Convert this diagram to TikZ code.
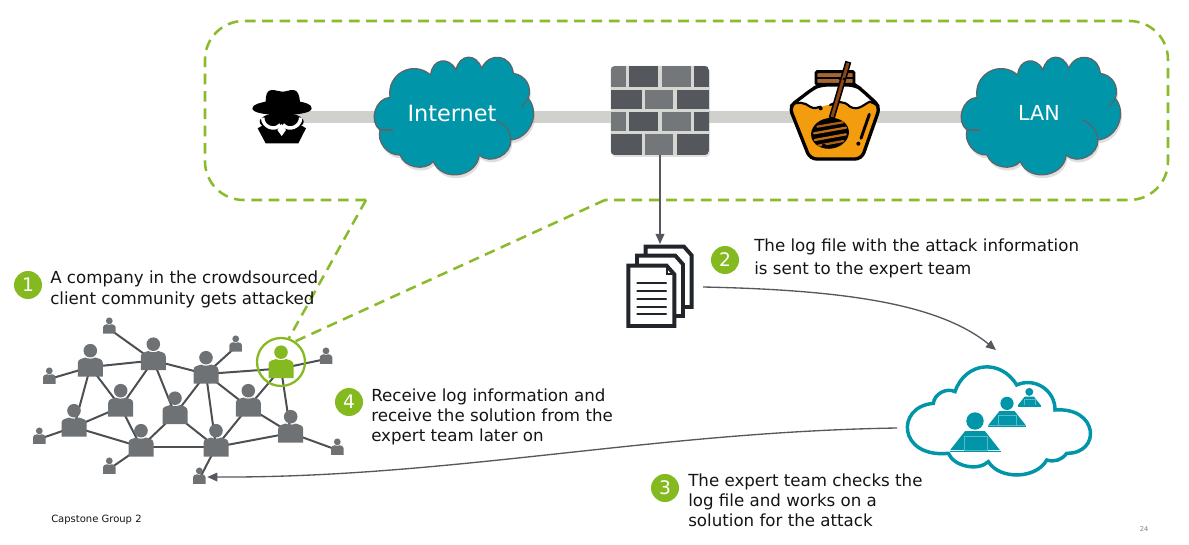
\documentclass[tikz,border=0pt]{standalone}
\usepackage{fontspec}
\setmainfont{DejaVu Sans}
\usetikzlibrary{arrows.meta,shadows,backgrounds}
\definecolor{teal1}{HTML}{0095A8}
\definecolor{cloudline}{HTML}{5E6468}
\definecolor{green1}{HTML}{84B91F}
\definecolor{dashgreen}{HTML}{8ABB2A}
\definecolor{persongray}{HTML}{6E7275}
\definecolor{edgegray}{HTML}{4C4F53}
\definecolor{arrowgray}{HTML}{55585C}
\definecolor{pipe}{HTML}{D0D0CD}
\definecolor{brickL}{HTML}{74777A}
\definecolor{brickD}{HTML}{54575B}
\definecolor{mortar}{HTML}{D6D6D3}
\definecolor{honeyc}{HTML}{F39C0D}
\definecolor{lidc}{HTML}{A5672F}
\definecolor{stickc}{HTML}{8A4513}
\definecolor{docc}{HTML}{21252B}
\definecolor{txt}{HTML}{141414}
\tikzset{
  x=0.75pt,y=-0.75pt,
  zoomed/.style={scale=0.33333},
  holder/.style={inner sep=0pt,outer sep=0pt,minimum width=#1*0.75pt},
  backbone/.style={pipe,line width=8.8pt},
  netedge/.style={edgegray,line width=1.5pt},
  flow/.style={arrowgray,line width=1pt,-{Triangle[width=6.5pt,length=7.5pt]}},
  greendash/.style={dashgreen,line width=1.9pt,dash pattern=on 8pt off 5pt},
  badge/.style={circle,fill=green1,text=white,inner sep=0pt,minimum size=21pt,font=\fontsize{14}{14}\selectfont},
  caption/.style={anchor=west,align=left,inner sep=0pt,text=txt},
  cloudlabel/.style={text=white,inner sep=0pt},
  bigcloud/.style={fill=teal1,draw=cloudline,line width=0.9pt,drop shadow={shadow xshift=1pt,shadow yshift=-2.5pt,opacity=0.25}},
}
\newcommand{\internetcloud}{%
  \path[bigcloud] (570,262)
    to[bend left=70,looseness=1.3] (692,195)
    to[bend left=75,looseness=1.6] (768,180)
    to[bend left=75,looseness=1.65] (845,175)
    to[bend left=75,looseness=1.5] (940,190)
    to[bend left=50,looseness=1.1] (985,265)
    to[bend left=62,looseness=1.1] (932,390)
    to[bend left=70,looseness=1.1] (838,435)
    to[bend left=75,looseness=1.25] (700,455)
    to[bend left=60] (600,435)
    to[bend left=55] (540,360)
    to[bend left=70,looseness=1.1] cycle;
  \draw[cloudline,line width=0.9pt] (985,265) -- (965,292);
  \draw[cloudline,line width=0.9pt] (885,330) .. controls (915,340) and (932,365) .. (932,390);
  \draw[cloudline,line width=0.9pt] (540,360) -- (578,360);
}
\newcommand{\personicon}[3]{%
  \begin{scope}[shift={(#1)},scale=#2]
    \fill[#3] (0,-16.3) circle (6.8);
    \fill[#3] (-12.5,9.5) -- (-12.5,-4) .. controls (-12.5,-8) and (-8,-8.5) .. (-5,-9.5)
      .. controls (-3,-8) and (3,-8) .. (5,-9.5) .. controls (8,-8.5) and (12.5,-8) .. (12.5,-4)
      -- (12.5,9.5) -- cycle;
  \end{scope}}
\newcommand{\experticon}[2]{%
  \begin{scope}[shift={(#1)},scale=#2]
    \fill[teal1] (0,-30.7) circle (8.7);
    \fill[teal1] (-25,-1.5) -- (-10,-20.5) -- (10,-20.5) -- (25,-1.5) -- cycle;
    \draw[teal1!65!white,line width=0.35pt] (-11,-15) rectangle (12,-1.5);
    \draw[teal1,line width=1pt] (-25.5,0) -- (25.5,0);
  \end{scope}}
\newcommand{\docpage}[2]{%
  \filldraw[fill=white,draw=docc,line width=2.9pt,miter limit=2] (#1,#2) -- ++(115,0) -- ++(23,26) -- ++(0,155) -- ++(-138,0) -- cycle;
}
\begin{document}
\begin{tikzpicture}
\useasboundingbox (0,0) rectangle (1189,545);
% ---- named holders
\node[holder=60,minimum height=40pt] (hacker) at (281,116.7) {};
\node[holder=156,minimum height=90pt] (internet) at (453.7,116.7) {};
\node[holder=99,minimum height=57.5pt] (firewall) at (660,116.7) {};
\node[holder=90,minimum height=80pt] (honey) at (838,116.7) {};
\node[holder=156,minimum height=90pt] (lan) at (1040.7,116.7) {};
\node[holder=86,minimum height=64.5pt] (docs) at (660,287) {};
\node[holder=198,minimum height=117pt] (experts) at (996,428) {};
\node[holder=16,minimum height=12pt] (gg) at (199.3,477) {};
\node[circle,inner sep=0pt,outer sep=0pt,minimum size=36pt,draw=green1,line width=1.7pt] (ring) at (281,362) {};
\coordinate (A) at (90.3,367);
\coordinate (B) at (153.3,360.5);
\coordinate (C) at (206,374);
\coordinate (D) at (120.7,407);
\coordinate (E) at (175,414.5);
\coordinate (F) at (248.3,407);
\coordinate (G) at (74,427);
\coordinate (H) at (141,447);
\coordinate (I) at (216,447);
\coordinate (J) at (290.7,433);
\coordinate (K) at (281,368.5);
\coordinate (a) at (109.3,329);
\coordinate (b) at (49.3,379);
\coordinate (c) at (235.7,347);
\coordinate (d) at (326,359);
\coordinate (e) at (39.3,439);
\coordinate (f) at (109.3,469);
\coordinate (g) at (199.3,479);
\coordinate (h) at (337.3,450);
\coordinate (dashL) at (366,200);
\coordinate (dashR) at (605,200);
% ---- lines behind everything
\begin{pgfonlayer}{background}
  \draw[backbone] (hacker.center) -- (lan.center);
  \foreach \p/\q in {a/B,b/A,A/B,B/C,c/C,C/K,K/d,A/G,A/D,D/B,B/E,E/C,C/F,C/I,F/K,K/J,D/G,D/H,G/e,G/H,E/H,E/I,H/I,F/I,F/J,I/J,J/h,H/f,I/g}
    \draw[netedge] (\p) -- (\q);
\end{pgfonlayer}
% ---- dashed callout
\draw[greendash,rounded corners=29pt] (dashL) -- (205,200) -- (205,21) -- (1168,21) -- (1168,200) -- (dashR);
\draw[greendash] (dashL) -- (ring.72);
\draw[greendash] (dashR) -- (ring.57);
% ---- hacker
\begin{scope}[shift={(245,80)},zoomed]
  \fill[black] (22,85) .. controls (22,72) and (50,68) .. (62,65) .. controls (62,45) and (66,30) .. (80,30)
    .. controls (95,30) and (100,35) .. (112,35) .. controls (125,35) and (130,30) .. (145,30)
    .. controls (158,30) and (163,45) .. (165,65) .. controls (180,68) and (200,72) .. (200,85)
    .. controls (200,100) and (150,105) .. (110,105) .. controls (70,105) and (22,100) .. (22,85) -- cycle;
  \fill[black] (110,125) ellipse [x radius=66,y radius=27];
  \fill[black] (38,145) -- (50,138) -- (172,138) -- (183,145) -- (160,190) -- (62,190) -- cycle;
  \draw[white,line width=2.6pt] (53,113) .. controls (53,140) and (88,155) .. (106,134);
  \draw[white,line width=2.6pt] (167,113) .. controls (167,140) and (132,155) .. (114,134);
  \fill[white] (110,132) -- (123,150) -- (110,168) -- (97,150) -- cycle;
\end{scope}
% ---- clouds
\begin{scope}[shift={(200,10)},zoomed]\internetcloud\end{scope}
\begin{scope}[shift={(787,10)},zoomed]\internetcloud\end{scope}
\node[cloudlabel,font=\fontsize{16.8}{18}\selectfont] (internetlabel) at (452,113) {Internet};
\node[cloudlabel,font=\fontsize{15.5}{18}\selectfont] (lanlabel) at (1039,113) {LAN};
% ---- firewall
\begin{scope}[shift={(590,50)},zoomed]
  \fill[mortar,rounded corners=3pt,drop shadow={shadow xshift=0.8pt,shadow yshift=-1.5pt,opacity=0.25}] (62,48) rectangle (357,315);
  \begin{scope}
    \clip[rounded corners=3pt] (62,48) rectangle (357,315);
    \foreach \t/\b in {48/110,187/243}{
      \fill[brickL] (62,\t) rectangle (107,\b);
      \fill[brickD] (118,\t) rectangle (205,\b);
      \fill[brickL] (215,\t) rectangle (303,\b);
      \fill[brickD] (313,\t) rectangle (357,\b);
    }
    \foreach \t/\b in {120/177,253/315}{
      \fill[brickD] (62,\t) rectangle (155,\b);
      \fill[brickL] (165,\t) rectangle (250,\b);
      \fill[brickD] (262,\t) rectangle (357,\b);
    }
  \end{scope}
\end{scope}
% ---- honey jar
\begin{scope}[shift={(780,55)},zoomed]
  \fill[white,rounded corners=5pt,drop shadow={shadow xshift=0.5pt,shadow yshift=-1.5pt,opacity=0.2}] (28,155) -- (90,312) -- (245,312) -- (300,155) -- (240,100) -- (225,90) -- (120,90) -- (100,100) -- cycle;
  \fill[honeyc] (32,152) .. controls (50,138) and (75,142) .. (90,155) .. controls (110,168) and (125,150) .. (150,150)
    .. controls (170,140) and (190,135) .. (210,155) .. controls (235,170) and (255,145) .. (270,140) -- (296,152)
    -- (245,312) -- (90,312) -- cycle;
  \draw[black,line width=2.5pt,line join=round,rounded corners=5pt] (28,155) -- (90,312) -- (245,312) -- (300,155) -- (240,100) -- (225,90) -- (120,90) -- (100,100) -- cycle;
  \draw[black,line width=1.6pt,line cap=round] (32,152) .. controls (50,138) and (75,142) .. (90,155) .. controls (105,165) and (115,155) .. (122,155);
  \draw[black,line width=1.6pt,line cap=round] (150,150) .. controls (170,140) and (190,135) .. (210,155) .. controls (235,170) and (255,145) .. (270,140) -- (296,152);
  \fill[black] (122,160) circle (6);
  \filldraw[fill=lidc,draw=black,line width=2.2pt,rounded corners=1pt] (108,50) rectangle (222,88);
  \draw[black,line width=1pt] (108,69) -- (222,69);
  \draw[black,line width=4.6pt] (205,20) -- (155,190);
  \draw[stickc,line width=2.2pt] (204,24) -- (156,186);
  \fill[black] (180,72) circle (4) (192,72) circle (4);
  \fill[black,rotate around={10:(150,235)}] (150,235) ellipse [x radius=57,y radius=46];
  \draw[stickc!70!honeyc,line width=1.7pt,line cap=round] (112,215) -- (188,202);
  \draw[stickc!50!honeyc,line width=1.7pt,line cap=round] (102,235) -- (198,218);
  \draw[stickc!50!honeyc,line width=1.7pt,line cap=round] (104,255) -- (198,238);
  \draw[stickc!70!honeyc,line width=1.7pt,line cap=round] (115,272) -- (190,258);
  \fill[black] (132,272) circle (6);
  \draw[black,line width=2.2pt,line cap=round] (268,178) -- (243,250);
  \fill[black] (235,266) circle (6);
\end{scope}
% ---- documents
\begin{scope}[shift={(610,225)},zoomed]
  \docpage{107}{65}
  \docpage{81}{92}
  \docpage{55}{122}
  \foreach \yy in {173,197,221,245,268}
    \draw[docc,line width=1.7pt,line cap=round] (82,\yy) -- (168,\yy);
  \draw[docc,line width=1.4pt] (170,122) -- (170,148) -- (193,148);
\end{scope}
% ---- expert cloud
\begin{scope}[shift={(890,350)},zoomed]
  \filldraw[fill=white,draw=teal1,line width=2.6pt,drop shadow={shadow xshift=0.6pt,shadow yshift=-1.2pt,opacity=0.2}] (130,160)
    to[bend left=55] (195,125)
    to[bend left=65,looseness=1.3] (380,105)
    to[bend left=58,looseness=1.1] (495,180)
    .. controls (625,170) and (635,310) .. (530,310)
    to[bend left=35] (470,330)
    to[bend left=60,looseness=0.95] (295,335)
    to[bend left=55,looseness=0.9] (175,310)
    .. controls (25,325) and (15,170) .. (130,160) -- cycle;
\end{scope}
\experticon{975,451.7}{1}
\experticon{1007,426.7}{0.76}
\experticon{1029.3,406}{0.46}
% ---- network people
\foreach \n in {A,B,C,D,E,F,G,H,I,J}{\personicon{\n}{1}{persongray}}
\foreach \n in {a,b,c,d,e,f,g,h}{\personicon{\n}{0.5}{persongray}}
\personicon{K}{1}{green1}
% ---- arrows
\draw[flow] (firewall.south) -- (docs.north);
\draw[flow] (docs.east) .. controls (850,290) and (940,305) .. (experts.north);
\draw[flow] (experts.west) .. controls (650,432) and (450,478) .. (gg.east);
% ---- badges and captions
\node[badge] (b1) at (28,285) {1};
\node[badge] (b2) at (725,260) {2};
\node[badge] (b3) at (665,488) {3};
\node[badge] (b4) at (349,402) {4};
\node[caption,font=\fontsize{12.5}{15.8}\selectfont] (t1) at (50,289) {A company in the crowdsourced\\client community gets attacked};
\node[caption,font=\fontsize{12.5}{17.2}\selectfont] (t2) at (754,258) {The log file with the attack information\\is sent to the expert team};
\node[caption,font=\fontsize{12.5}{15}\selectfont] (t3) at (688,500) {The expert team checks the\\log file and works on a\\solution for the attack};
\node[caption,font=\fontsize{12.5}{15}\selectfont] (t4) at (371,416.5) {Receive log information and\\receive the solution from the\\expert team later on};
\node[caption,font=\fontsize{7.5}{9}\selectfont] (cap) at (51,520) {Capstone Group 2};
\node[anchor=center,inner sep=0pt,text=gray,font=\fontsize{5}{6}\selectfont] (pn) at (1144,529) {24};
\end{tikzpicture}
\end{document}
